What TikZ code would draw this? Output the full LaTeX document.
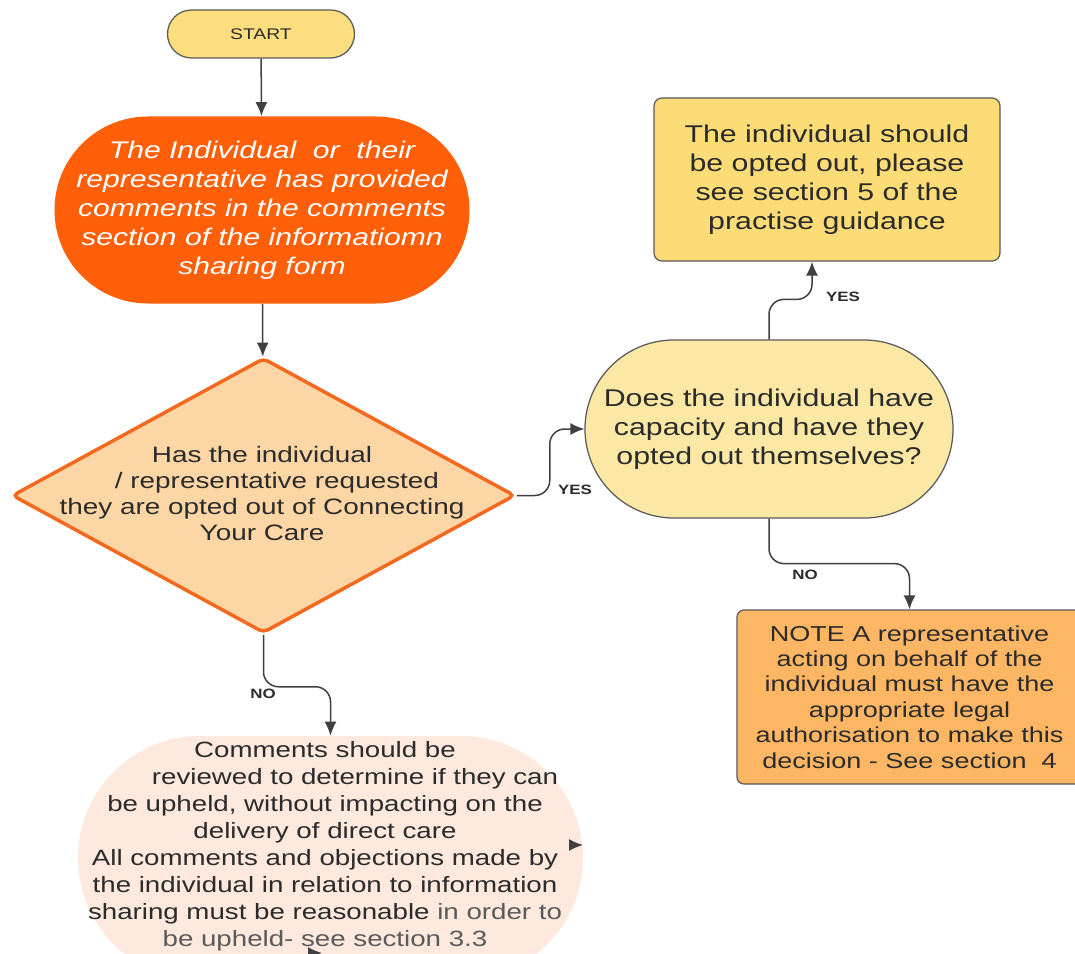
\documentclass[tikz,border=0pt]{standalone}
\usepackage{fontspec}
\setmainfont{Liberation Sans}[FakeStretch=1.25]
\usetikzlibrary{arrows.meta,shapes.geometric}

\definecolor{startyellow}{HTML}{FCDE7E}
\definecolor{commentorange}{HTML}{FF5F08}
\definecolor{decisionfill}{HTML}{FDD6A5}
\definecolor{decisionedge}{HTML}{F26A1F}
\definecolor{capfill}{HTML}{FCE8A5}
\definecolor{optfill}{HTML}{FCDC76}
\definecolor{notefill}{HTML}{FDB663}
\definecolor{reviewfill}{HTML}{FDE9DE}
\definecolor{edgegray}{HTML}{5A5A5A}
\definecolor{linegray}{HTML}{404040}
\definecolor{textgray}{HTML}{2B2B2B}

\begin{document}
\begin{tikzpicture}[x=0.2mm,y=-0.2mm,
    conn/.style={draw=linegray,line width=0.3mm,rounded corners=3mm,
        -{Latex[length=2.8mm,width=2.4mm]}},
    lbl/.style={font=\fontsize{7.7}{9}\selectfont\bfseries,text=textgray},
    boxtext/.style={align=center,text=textgray,inner sep=0pt}]

    \useasboundingbox (0,0) rectangle (1075,954);

    % start
    \node[fill=startyellow,draw=edgegray,line width=0.25mm,rounded corners=4.8mm,
        minimum width=37.4mm,minimum height=9.6mm,inner sep=0pt,text=textgray,
        font=\fontsize{8.8}{10}\selectfont] (start) at (261,34) {START};

    % comments given
    \node[fill=commentorange,rounded corners=18.7mm,minimum width=83mm,
        minimum height=37.4mm,inner sep=0pt,align=center,text=white,
        font=\fontsize{13.7}{16.5}\selectfont\itshape] (comment) at (262,210)
        {The Individual\ \ or\ \ their\\
         representative has provided\\
         comments in the comments\\
         section of the informatiomn\\
         sharing form};

    % opt out requested?
    \node[diamond,fill=decisionfill,draw=decisionedge,line width=0.7mm,
        rounded corners=1mm,minimum width=100.6mm,minimum height=55mm,
        inner sep=0pt] (decision) at (263.5,495.5) {};
    \node[boxtext,font=\fontsize{12.7}{14.8}\selectfont] (decisiontxt) at (262,494)
        {Has the individual\\
         \hspace*{6mm}/ representative requested\\
         they are opted out of Connecting\\
         Your Care};

    % capacity?
    \node[fill=capfill,draw=edgegray,line width=0.25mm,rounded corners=17.8mm,
        minimum width=73.6mm,minimum height=35.6mm,boxtext,
        font=\fontsize{13.8}{16.5}\selectfont] (does) at (769,429)
        {Does the individual have\\
         capacity and have they\\
         opted out themselves?};

    % opted out
    \node[fill=optfill,draw=edgegray,line width=0.25mm,rounded corners=1.6mm,
        minimum width=69.2mm,minimum height=32.6mm,boxtext,
        font=\fontsize{13.8}{16.5}\selectfont] (optout) at (827,179.5)
        {The individual should\\
         be opted out, please\\
         see section 5 of the\\
         practise guidance};

    % note
    \node[fill=notefill,draw=edgegray,line width=0.25mm,rounded corners=1.4mm,
        minimum width=69mm,minimum height=34.8mm,boxtext,
        font=\fontsize{12.3}{14.5}\selectfont] (note) at (909.5,697)
        {NOTE A representative\\
         acting on behalf of the\\
         individual must have the\\
         appropriate legal\\
         authorisation to make this\\
         decision - See section\ \ 4};

    % review comments
    \node[fill=reviewfill,rounded corners=24.4mm,minimum width=101mm,
        minimum height=48.8mm,inner sep=0pt] (review) at (330.5,858) {};
    \node[boxtext,font=\fontsize{12.6}{15.4}\selectfont] (reviewtxt) at (325,846)
        {Comments should be\\
         \hspace*{12mm}reviewed to determine if they can\\
         be upheld, without impacting on the\\
         delivery of direct care\\
         All comments and objections made by\\
         the individual in relation to information\\
         sharing must be reasonable {\color{edgegray}in order to}\\
         {\color{edgegray}be upheld- see section 3.3}};

    \draw[conn] (start) -- (comment);
    \draw[conn] (comment) -- (decision);
    \draw[conn] (decision.east) -- ++(33,0) |- (does.west); % yes
    \draw[conn] (decision.south) -- ++(0,52) -| (review.north); % no
    \draw[conn] (does.north) -- ++(0,-40) -| ([xshift=-3mm]optout.south); % yes
    \draw[conn] (does.south) -- ++(0,45) -| (note.north); % no

    \node[lbl] (yes1) at (575,490) {YES};
    \node[lbl] (no1) at (263,694) {NO};
    \node[lbl] (yes2) at (843,297) {YES};
    \node[lbl] (no2) at (805,575) {NO};

    % stray tips
    \coordinate (tipa) at (583,845);
    \coordinate (tipb) at (322,953);
    \draw[conn] ([xshift=-2.6mm]tipa) -- (tipa);
    \draw[conn] ([xshift=-2.6mm]tipb) -- (tipb);

\end{tikzpicture}
\end{document}
